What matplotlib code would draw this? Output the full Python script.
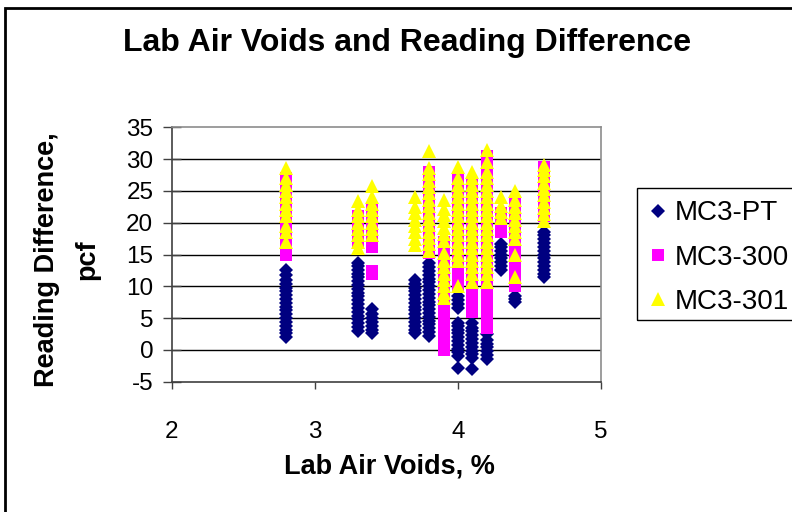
import matplotlib
matplotlib.use("Agg")
import matplotlib.pyplot as plt
from matplotlib.patches import Rectangle

plt.rcParams['font.family'] = ['Liberation Sans', 'DejaVu Sans']

# ---------------- data ----------------
# Lab air voids (%) columns and the reading differences (pcf) measured at each
pt_voids_cols = [2.8, 3.3, 3.4, 3.7, 3.8, 4.0, 4.1, 4.2, 4.3, 4.4, 4.6]
pt_diff_cols = [
    [2.0, 2.6, 3.2, 3.8, 4.4, 5.0, 5.6, 6.2, 6.8, 7.4, 8.0, 8.6, 9.2, 9.8, 10.4, 11.0, 11.8, 12.6],
    [3.0, 3.6, 4.2, 4.8, 5.4, 6.0, 6.6, 7.2, 7.8, 8.4, 9.0, 9.6, 10.2, 10.8, 11.4, 12.0, 12.6, 13.2, 13.6],
    [2.6, 3.2, 3.8, 4.4, 5.0, 5.6, 6.4],
    [2.6, 3.2, 3.8, 4.4, 5.0, 5.6, 6.2, 6.8, 7.4, 8.0, 8.6, 9.2, 9.8, 10.4, 11.0],
    [2.2, 2.8, 3.4, 4.0, 4.6, 5.2, 5.8, 6.4, 7.0, 7.6, 8.2, 8.8, 9.4, 10.0, 10.6, 11.2, 11.8, 12.4, 13.0, 13.6],
    [-2.9, -1.0, -0.4, 0.2, 0.8, 1.4, 2.0, 2.6, 3.2, 3.8, 4.2, 6.6, 7.2, 7.8, 8.4],
    [-3.0, -1.3, -0.7, -0.1, 0.5, 1.1, 1.7, 2.3, 2.9, 3.5, 4.3],
    [-1.4, -0.8, -0.2, 0.4, 1.0, 1.6, 2.5],
    [12.6, 13.2, 13.8, 14.4, 15.0, 15.6, 16.2, 16.6],
    [7.5, 8.0, 8.4],
    [11.4, 12.0, 12.6, 13.2, 13.8, 14.4, 15.0, 15.6, 16.2, 16.8, 17.4, 18.0, 18.6],
]

m300_voids_cols = [2.8, 3.3, 3.4, 3.8, 3.9, 4.0, 4.1, 4.2, 4.3, 4.4, 4.6]
m300_diff_cols = [
    [15.0, 16.0, 17.0, 18.0, 19.0, 20.0, 21.0, 22.0, 23.0, 24.0, 25.0, 26.0, 27.0],
    [17.0, 19.0, 21.0],
    [11.9, 12.4, 16.2, 17.0, 18.0, 19.0, 20.0, 21.0, 22.0],
    [15.2, 16.2, 17.2, 18.2, 19.2, 20.2, 21.2, 22.2, 23.2, 24.2, 25.2, 26.2, 27.2, 28.0],
    [0.0, 1.0, 2.0, 3.0, 4.0, 5.0, 6.0, 7.0, 8.0, 9.0, 10.0, 11.0, 12.0, 13.0, 14.0, 15.0, 16.0, 17.0],
    [10.0, 11.0, 12.0, 13.0, 14.0, 15.0, 16.0, 17.0, 18.0, 19.0, 20.0, 21.0, 22.0, 23.0, 24.0, 25.0, 26.0, 27.0],
    [6.0, 7.0, 8.0, 9.0, 10.0, 11.0, 12.0, 13.0, 14.0, 15.0, 16.0, 17.0, 18.0, 19.0, 20.0, 21.0, 22.0,
     23.0, 24.0, 25.0, 26.0],
    [3.5, 4.5, 5.5, 6.5, 7.5, 8.5, 9.5, 10.5, 11.5, 12.5, 13.5, 14.5, 15.5, 16.5, 17.5, 18.5, 19.5, 20.5,
     21.5, 22.5, 23.5, 24.5, 25.5, 26.5, 27.5, 28.5, 29.5, 30.5],
    [18.5, 19.5, 20.5, 21.5],
    [10.0, 11.0, 12.0, 13.0, 14.0, 15.0, 16.0, 17.0, 18.0, 19.0, 20.0, 21.0, 22.0, 23.2],
    [21.0, 22.0, 23.0, 24.0, 25.0, 26.0, 27.0, 28.0, 28.8],
]

m301_voids_cols = [2.8, 3.3, 3.4, 3.7, 3.8, 3.9, 4.0, 4.1, 4.2, 4.3, 4.4, 4.6]
m301_diff_cols = [
    [17.0, 18.5, 19.5, 21.0, 22.0, 23.0, 24.0, 25.0, 26.0, 27.0, 28.6],
    [16.0, 17.0, 18.0, 19.0, 20.0, 21.0, 22.0, 23.4],
    [18.0, 19.0, 20.0, 21.0, 22.0, 23.0, 24.0, 25.8],
    [16.5, 17.5, 18.5, 19.5, 20.5, 21.5, 22.5, 24.0],
    [15.6, 16.6, 17.6, 18.6, 19.6, 20.6, 21.6, 22.6, 23.6, 24.6, 25.6, 26.6, 27.6, 28.6, 31.3],
    [8.2, 9.0, 10.0, 11.0, 12.0, 13.0, 14.0, 15.2, 17.2, 18.2, 19.2, 20.2, 21.2, 22.2, 23.6],
    [10.1, 14.0, 15.0, 16.0, 17.0, 18.0, 19.0, 20.0, 21.0, 22.0, 23.0, 24.0, 25.0, 26.0, 27.0, 28.7],
    [10.6, 12.0, 13.0, 14.0, 15.0, 16.0, 17.0, 18.0, 19.0, 20.0, 21.0, 22.0, 23.0, 24.0, 25.0, 26.0, 27.0, 28.0],
    [10.7, 12.0, 13.0, 14.0, 15.0, 16.0, 17.0, 18.0, 19.0, 20.0, 21.0, 22.0, 23.0, 24.0, 25.0, 26.0, 27.0,
     28.0, 29.5, 31.4],
    [20.7, 21.7, 22.7, 24.0],
    [11.4, 14.9, 17.5, 18.5, 19.5, 20.5, 21.5, 22.5, 23.5, 25.0],
    [20.3, 21.3, 22.3, 23.3, 24.3, 25.3, 26.3, 27.3, 28.3, 29.0],
]

series_names = ["MC3-PT", "MC3-300", "MC3-301"]
y_ticks = [-5, 0, 5, 10, 15, 20, 25, 30, 35]
x_ticks = [2, 3, 4, 5]


def flatten(cols, vals):
    xs, ys = [], []
    for c, v in zip(cols, vals):
        xs.extend([c] * len(v))
        ys.extend(v)
    return xs, ys


pt_x, pt_y = flatten(pt_voids_cols, pt_diff_cols)
m300_x, m300_y = flatten(m300_voids_cols, m300_diff_cols)
m301_x, m301_y = flatten(m301_voids_cols, m301_diff_cols)

# ---------------- figure ----------------
W, H = 792, 512
fig = plt.figure(figsize=(W / 100, H / 100), dpi=100)
fig.patch.set_facecolor("white")

left, right, top, bottom = 172, 601, 127.3, 381.7
ax = fig.add_axes([left / W, 1 - bottom / H, (right - left) / W, (bottom - top) / H])

ax.plot(pt_x, pt_y, linestyle="none", marker="D", markersize=7.4,
        color="#000080", markeredgewidth=0, label=series_names[0], clip_on=False)
ax.plot(m300_x, m300_y, linestyle="none", marker="s", markersize=9.3,
        color="#FF00FF", markeredgewidth=0, label=series_names[1], clip_on=False)
ax.plot(m301_x, m301_y, linestyle="none", marker="^", markersize=10,
        color="#FFFF00", markeredgewidth=0, label=series_names[2], clip_on=False)

ax.set_xlim(2, 5)
ax.set_ylim(-5, 35)
ax.set_xticks(x_ticks)
ax.set_yticks(y_ticks)
ax.set_yticklabels([str(v) for v in y_ticks])
ax.set_xticklabels([str(v) for v in x_ticks])

for v in y_ticks[1:-1]:
    ax.axhline(v, color="black", linewidth=1.0, zorder=0.5)

for s in ["top", "right"]:
    ax.spines[s].set_color("#8c8c8c")
    ax.spines[s].set_linewidth(1.2)
for s in ["left", "bottom"]:
    ax.spines[s].set_color("#404040")
    ax.spines[s].set_linewidth(1.2)

ax.tick_params(axis="y", direction="inout", length=13, width=1.0, color="#404040",
               labelsize=17.5, pad=7)
ax.tick_params(axis="x", direction="out", length=5, width=1.0, color="#404040",
               labelsize=17.5, pad=23)

fig.text(407 / W, 1 - 43 / H, "Lab Air Voids and Reading Difference",
         ha="center", va="center", fontsize=23, fontweight="bold")
fig.text(389 / W, 1 - 466 / H, "Lab Air Voids, %",
         ha="center", va="center", fontsize=19.5, fontweight="bold")
fig.text(67 / W, 1 - 260 / H, "Reading Difference,\npcf", rotation=90,
         ha="center", va="center", fontsize=19.5, fontweight="bold",
         multialignment="center", linespacing=1.7)

leg = fig.legend(loc="upper left", bbox_to_anchor=(637 / W, 1 - 188 / H),
                 frameon=False, fontsize=20, handletextpad=0.3, labelspacing=0.65,
                 borderpad=0.45, handlelength=0.6, borderaxespad=0)

# legend box runs past the right edge of the picture, as in the original
legend_box = Rectangle((637 / W, 1 - 320 / H), 200 / W, 132 / H, transform=fig.transFigure,
                       fill=False, edgecolor="black", linewidth=1.0)
fig.patches.append(legend_box)

border = Rectangle((5 / W, -0.1), 1.2, 1 - 8 / H + 0.1, transform=fig.transFigure,
                   fill=False, edgecolor="black", linewidth=2.0)
fig.patches.append(border)

fig.savefig("out.png", dpi=100)
